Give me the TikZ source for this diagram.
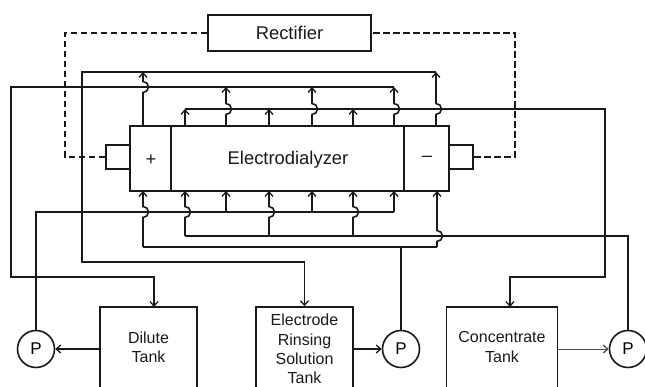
\documentclass[tikz,border=0pt]{standalone}
\usepackage{fontspec}
\setmainfont{Liberation Sans}
\usetikzlibrary{arrows.meta}
\newcommand{\jmpline}[4]{% x, ystart, ycross, yend
  \draw[flow] (#1,#2) -- (#1,#3+5.5) arc[start angle=-90,end angle=90,radius=5.5pt] -- (#1,#4);}
\begin{document}
\begin{tikzpicture}[x=1pt,y=-1pt,
  ln/.style={line width=1.6pt, draw=black!90},
  flow/.style={ln, -{Straight Barb[length=4.5pt,width=8pt,line width=1.3pt]}},
  boxs/.style={draw=black!90, line width=1.6pt, inner sep=0pt},
  pump/.style={draw=black!90, circle, line width=1.6pt, minimum size=37pt, inner sep=0pt, font=\fontsize{17}{17}\selectfont},
  elec/.style={draw=black!90, line width=2.4pt, dash pattern=on 6.5pt off 3.5pt},
  bigtxt/.style={font=\fontsize{18.4}{20}\selectfont, inner sep=0pt, text=black!90},
  tanktxt/.style={font=\fontsize{16}{19.3}\selectfont, align=center, inner sep=0pt, text=black!90},
]
\useasboundingbox (0,0) rectangle (645,387);

% Rectifier
\node[boxs, minimum width=163pt, minimum height=36pt, bigtxt] (rect) at (289.5,33) {Rectifier};

% Electrodialyzer
\node[boxs, minimum width=319pt, minimum height=65pt] (ed) at (289.5,158.5) {};
\draw[ln] (171,126) -- (171,191);
\draw[ln] (404,126) -- (404,191);
\node[bigtxt] (plus) at (151,160) {+};
\node[bigtxt] (edtxt) at (288,160) {Electrodialyzer};
\node[bigtxt] (minus) at (427,159) {\textendash};

% electrode connectors
\node[boxs, minimum width=24pt, minimum height=24pt] (lc) at (118,157) {};
\node[draw=black!90, line width=2.4pt, minimum width=24pt, minimum height=24pt, inner sep=0pt] (rc) at (461,157) {};

% power (dashed)
\draw[elec] (rect.west) -- (65,33) -- (65,157) -- (lc.west);
\draw[elec] (rc.east) -- (515,157) -- (515,33) -- (rect.east);

% Tanks
\node[boxs, minimum width=97pt, minimum height=90pt] (dt) at (148.5,352) {};
\node[boxs, minimum width=97pt, minimum height=90pt] (ert) at (304.5,352) {};
\node[boxs, minimum width=111pt, minimum height=90pt] (ct) at (502,352) {};
\node[tanktxt] (dttxt) at (148.5,347) {Dilute\\Tank};
\node[tanktxt] (erttxt) at (304.5,349) {Electrode\\Rinsing\\Solution\\Tank};
\node[tanktxt] (cttxt) at (502,347) {Concentrate\\Tank};

% Pumps
\node[pump] (pl) at (36,349) {P};
\node[pump] (pm) at (401,349) {P};
\node[pump] (pr) at (628,349) {P};

\coordinate (dtin) at (154,307);
\coordinate (ctin) at (510,307);

% ---- outlets (top) ----
% electrode rinsing outlet
\draw[flow] (436,72) -- (82,72) -- (82,262) -| (ert.north);
% dilute outlet
\draw[flow] (394,87) -- (11,87) -- (11,277) -| (dtin);
% concentrate outlet
\draw[flow] (185,109) -- (605,109) -- (605,277) -| (ctin);

\jmpline{143}{126}{87}{72}
\draw[flow] (185,126) -- (185,109);
\jmpline{226}{126}{109}{87}
\draw[flow] (269,126) -- (269,109);
\jmpline{312}{126}{109}{87}
\draw[flow] (353,126) -- (353,109);
\jmpline{394}{126}{109}{87}
\jmpline{436}{126}{109}{72}

% ---- inlets (bottom) ----
\draw[ln] (pl.north) -- (36,212) -- (394,212);
\draw[ln] (pr.north) -- (628,236) -- (185,236);
\draw[ln] (pm.north) -- (401,247);
\draw[ln] (143,247) -- (437,247);

\draw[flow] (226,212) -- (226,191);
\draw[flow] (312,212) -- (312,191);
\draw[flow] (394,212) -- (394,191);
\jmpline{185}{236}{212}{191}
\jmpline{269}{236}{212}{191}
\jmpline{353}{236}{212}{191}
\jmpline{143}{247}{212}{191}
\jmpline{437}{247}{236}{191}

% tank to pump
\draw[flow] (dt.west |- pl) -- (pl.east);
\draw[flow] (ert.east |- pm) -- (pm.west);
\draw[flow, line width=1pt, draw=black!70] (ct.east |- pr) -- (pr.west);
\end{tikzpicture}
\end{document}
